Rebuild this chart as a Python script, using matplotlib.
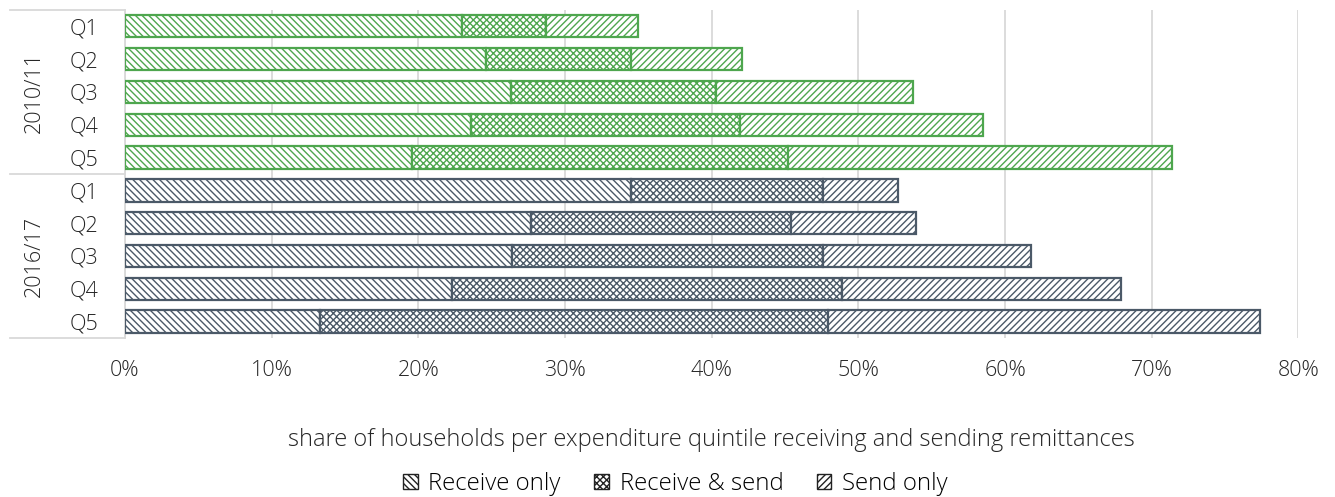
import numpy as np
import matplotlib.pyplot as plt
from matplotlib.patches import Patch
from matplotlib.transforms import blended_transform_factory

plt.rcParams['font.family'] = ['Open Sans', 'DejaVu Sans']
plt.rcParams['font.weight'] = 'light'
plt.rcParams['hatch.linewidth'] = 1.0

quintiles = ['Q1', 'Q2', 'Q3', 'Q4', 'Q5']
years = ['2010/11', '2016/17']

# cumulative shares (%) at the end of each segment
recv_only_end = {'2010/11': [23.0, 24.6, 26.3, 23.6, 19.6],
                 '2016/17': [34.5, 27.7, 26.4, 22.3, 13.3]}
recv_send_end = {'2010/11': [28.7, 34.5, 40.3, 41.9, 45.2],
                 '2016/17': [47.6, 45.4, 47.6, 48.9, 47.9]}
total = {'2010/11': [35.0, 42.1, 53.7, 58.5, 71.4],
         '2016/17': [52.7, 53.9, 61.8, 67.9, 77.4]}

colors = {'2010/11': '#4ea64e', '2016/17': '#4b5968'}
hatches = ['\\\\\\\\\\', 'xxxxx', '/////']
labels = ['Receive only', 'Receive & send', 'Send only']
fs = 15.5
txt = '#262626'

fig = plt.figure(figsize=(13.35, 4.97), dpi=100)
ax = fig.add_axes([0.0936, 0.32, 0.879, 0.66])

row = 0
for yr in years:
    for i in range(len(quintiles)):
        a = recv_only_end[yr][i] / 100
        b = recv_send_end[yr][i] / 100
        c = total[yr][i] / 100
        segs = [(0, a), (a, b - a), (b, c - b)]
        for (left, width), h in zip(segs, hatches):
            ax.barh(row, width, left=left, height=0.68, color='white',
                    edgecolor=colors[yr], hatch=h, linewidth=1.6, zorder=3)
        row += 1

ax.set_ylim(9.5, -0.5)
ax.set_xlim(0, 0.8)
ax.set_xticks(np.arange(0, 0.81, 0.1))
ax.set_xticklabels([f'{int(round(t * 100))}%' for t in np.arange(0, 0.81, 0.1)],
                   fontsize=fs, color=txt)
ax.tick_params(axis='x', length=0, pad=16)
ax.set_yticks(range(10))
ax.set_yticklabels(quintiles * 2, fontsize=fs, color=txt)
ax.tick_params(axis='y', length=0, pad=19)
ax.grid(axis='x', color='#d9d9d9', linewidth=1.3, zorder=0)
for s in ['top', 'right', 'bottom']:
    ax.spines[s].set_visible(False)
ax.spines['left'].set_color('#d9d9d9')
ax.spines['left'].set_linewidth(1.3)

ax.set_xlabel('share of households per expenditure quintile receiving and sending remittances',
              fontsize=17, fontweight='light', color=txt, labelpad=34)

# group labels and separators for the two survey rounds
tr = blended_transform_factory(ax.transAxes, ax.transData)
for yv in [-0.5, 4.5, 9.5]:
    ax.plot([-0.098, 0], [yv, yv], transform=tr, color='#d9d9d9',
            linewidth=1.3, clip_on=False)
for k, yr in enumerate(years):
    ax.text(-0.077, 2 + 5 * k, yr, transform=tr, rotation=90, ha='center',
            va='center', fontsize=fs, color=txt)

handles = [Patch(facecolor='white', edgecolor='#222222', hatch=h, linewidth=1.0)
           for h in hatches]
fig.legend(handles, labels, loc='center', bbox_to_anchor=(0.506, 0.026), ncol=3,
           frameon=False, fontsize=17.3, handlelength=0.6, handleheight=0.6,
           handletextpad=0.45, columnspacing=1.4)

fig.savefig('out.png', dpi=100)
